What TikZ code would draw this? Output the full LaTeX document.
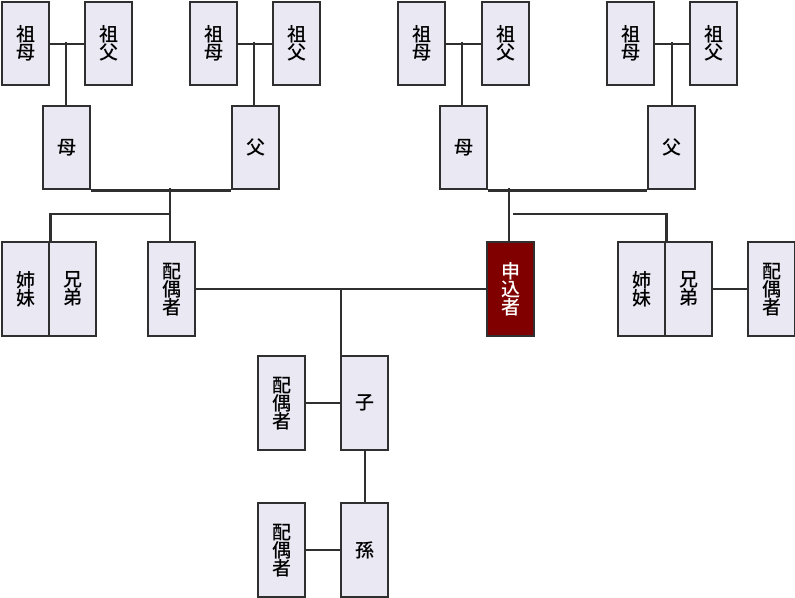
\documentclass[tikz,border=0pt]{standalone}
\usepackage{fontspec}
\newfontfamily\cjk{Noto Sans CJK JP}[UprightFont={* Medium}]
\definecolor{boxfill}{HTML}{EAE8F3}
\definecolor{boxline}{HTML}{2F2F2F}
\definecolor{selfred}{HTML}{800000}
\begin{document}
\begin{tikzpicture}[x=1pt,y=-1pt,
  person/.style={draw=boxline,line width=2.4pt,fill=boxfill,inner sep=0pt,
    font=\cjk\fontsize{19}{18}\selectfont,align=center,anchor=north west},
  small/.style={person,minimum width=47pt,minimum height=83pt},
  tall/.style={person,minimum width=47pt,minimum height=94pt},
  self/.style={tall,fill=selfred,text=white},
  link/.style={draw=boxline,line width=2.2pt}]
\useasboundingbox (0,0) rectangle (795,597);
% grandparents
\node[small] (gm1) at (1,1) {祖\\母};
\node[small] (gf1) at (84,1) {祖\\父};
\node[small] (gm2) at (189,1) {祖\\母};
\node[small] (gf2) at (272,1) {祖\\父};
\node[small] (gm3) at (397,1) {祖\\母};
\node[small] (gf3) at (481,1) {祖\\父};
\node[small] (gm4) at (606,1) {祖\\母};
\node[small] (gf4) at (689,1) {祖\\父};
% parents
\node[small] (m1) at (42,105) {母};
\node[small] (f1) at (231,105) {父};
\node[small] (m2) at (439,105) {母};
\node[small] (f2) at (647,105) {父};
% third row
\node[tall] (sis1) at (1,241) {姉\\妹};
\node[tall] (bro1) at (48,241) {兄\\弟};
\node[tall] (sp1) at (147,241) {配\\偶\\者};
\node[self] (me) at (486,241) {申\\込\\者};
\node[tall] (sis2) at (617,241) {姉\\妹};
\node[tall] (bro2) at (664,241) {兄\\弟};
\node[tall] (sp2) at (747,241) {配\\偶\\者};
% children
\node[tall] (spc) at (257,355) {配\\偶\\者};
\node[tall] (child) at (340,355) {子};
\node[tall] (spg) at (257,502) {配\\偶\\者};
\node[tall] (grand) at (340,502) {孫};
% connectors
\coordinate (c1) at (66,42);
\coordinate (c2) at (254,42);
\coordinate (c3) at (462,42);
\coordinate (c4) at (672,42);
\draw[link] (gm1.east) -- (gf1.west);
\draw[link] (c1) -- (c1 |- m1.north);
\draw[link] (gm2.east) -- (gf2.west);
\draw[link] (c2) -- (c2 |- f1.north);
\draw[link] (gm3.east) -- (gf3.west);
\draw[link] (c3) -- (c3 |- m2.north);
\draw[link] (gm4.east) -- (gf4.west);
\draw[link] (c4) -- (c4 |- f2.north);
% parents couples
\draw[link] (m1.south east) -- (f1.south west);
\draw[link] (m2.south east) -- (f2.south west);
\coordinate (p1) at (170,188);
\coordinate (p2) at (509,188);
\coordinate (s1) at (170,214);
\coordinate (s2) at (513,214);
\draw[link] (p1) -- (p1 |- sp1.north);
\draw[link] (s1) -| (sis1.north east);
\draw[link] (p2) -- (p2 |- me.north);
\draw[link] (s2) -| (sis2.north east);
% couple line
\draw[link] (sp1.east) -- (me.west);
\coordinate (k) at (341,288);
\draw[link] (k) -- (k |- child.north);
\draw[link] (spc.east) -- (child.west);
\draw[link] (child.south) -- (grand.north);
\draw[link] (spg.east) -- (grand.west);
\draw[link] (bro2.east) -- (sp2.west);
\end{tikzpicture}
\end{document}
